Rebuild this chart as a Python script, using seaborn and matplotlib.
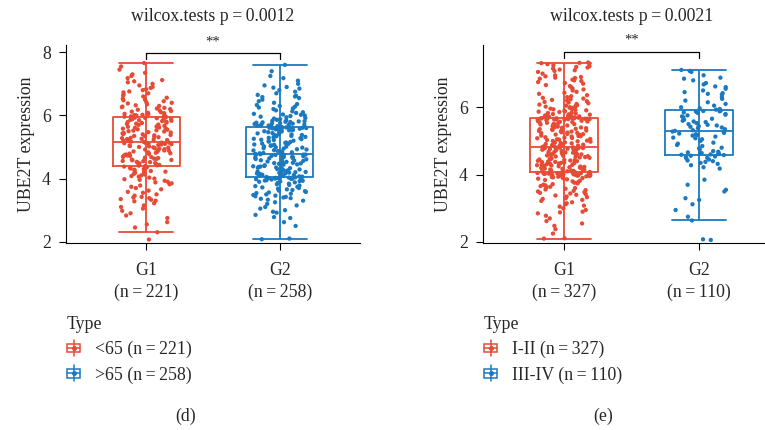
import numpy as np
import pandas as pd
import matplotlib
matplotlib.use("Agg")
import matplotlib.pyplot as plt
import seaborn as sns
from matplotlib.legend_handler import HandlerBase
from matplotlib.patches import Rectangle, Patch
from matplotlib.lines import Line2D

sns.set_theme(style="ticks")
plt.rcParams['font.family'] = ['Liberation Serif', 'DejaVu Serif']

RED = "#E64B35"
BLUE = "#1B79C0"
TS = "\u2009"

# ---------------- data ----------------
categories = ["G1", "G2"]
d_ticklabels = [f"G1\n(n{TS}={TS}221)", f"G2\n(n{TS}={TS}258)"]
e_ticklabels = [f"G1\n(n{TS}={TS}327)", f"G2\n(n{TS}={TS}110)"]
d_types = [f"<65 (n{TS}={TS}221)", f">65 (n{TS}={TS}258)"]
e_types = [f"I-II (n{TS}={TS}327)", f"III-IV (n{TS}={TS}110)"]
d_title = f"wilcox.tests p{TS}={TS}0.0012"
e_title = f"wilcox.tests p{TS}={TS}0.0021"
d_sig = "**"
e_sig = "**"
ylabel = "UBE2T expression"

d_g1 = """2.07 2.30 2.45 2.55 2.62 2.75 2.83 2.90 2.98 3.05 3.10 3.15 3.22 3.28 3.30 3.33
3.35 3.38 3.40 3.42 3.46 3.50 3.55 3.58 3.62 3.66 3.70 3.74 3.78 3.82 3.85 3.88 3.90 3.93
3.96 3.98 4.00 4.03 4.06 4.08 4.10 4.13 4.15 4.18 4.20 4.22 4.24 4.26 4.28 4.30 4.32 4.34
4.36 4.38 4.40 4.41 4.42 4.43 4.45 4.46 4.48 4.49 4.50 4.52 4.53 4.55 4.56 4.58 4.59 4.60
4.62 4.63 4.65 4.66 4.68 4.69 4.70 4.72 4.73 4.75 4.76 4.78 4.79 4.80 4.82 4.83 4.85 4.86
4.88 4.89 4.90 4.92 4.93 4.95 4.96 4.98 4.99 5.00 5.02 5.03 5.05 5.06 5.08 5.09 5.10 5.11
5.12 5.13 5.14 5.14 5.15 5.16 5.17 5.19 5.20 5.22 5.23 5.25 5.26 5.28 5.29 5.31 5.32 5.34
5.35 5.37 5.38 5.40 5.41 5.43 5.44 5.46 5.47 5.49 5.50 5.52 5.53 5.55 5.56 5.58 5.59 5.61
5.62 5.64 5.65 5.67 5.68 5.70 5.71 5.73 5.74 5.76 5.77 5.79 5.80 5.82 5.83 5.85 5.86 5.88
5.89 5.90 5.91 5.92 5.93 5.94 5.95 5.96 5.97 5.98 5.99 6.00 6.01 6.02 6.04 6.05 6.07 6.08
6.10 6.12 6.14 6.16 6.18 6.20 6.22 6.24 6.26 6.28 6.30 6.32 6.35 6.38 6.40 6.42 6.45 6.48
6.50 6.53 6.56 6.60 6.63 6.66 6.70 6.73 6.76 6.80 6.83 6.87 6.90 6.95 7.00 7.05 7.08 7.12
7.18 7.25 7.30 7.35 7.45 7.55 7.66"""

d_g2 = """2.08 2.10 2.50 2.62 2.75 2.78 2.85 2.92 2.95 3.00 3.05 3.10 3.15 3.20 3.25 3.30
3.33 3.36 3.38 3.40 3.42 3.44 3.46 3.48 3.50 3.52 3.54 3.56 3.58 3.60 3.62 3.64 3.66 3.68
3.70 3.72 3.74 3.76 3.78 3.80 3.82 3.84 3.86 3.88 3.90 3.91 3.92 3.93 3.94 3.95 3.96 3.97
3.98 3.99 4.00 4.00 4.01 4.01 4.02 4.02 4.03 4.03 4.04 4.04 4.05 4.06 4.07 4.08 4.09 4.10
4.11 4.12 4.14 4.15 4.16 4.17 4.18 4.19 4.20 4.21 4.22 4.24 4.25 4.26 4.27 4.28 4.29 4.30
4.32 4.33 4.34 4.35 4.37 4.38 4.39 4.40 4.42 4.43 4.44 4.45 4.47 4.48 4.49 4.50 4.52 4.53
4.54 4.56 4.57 4.58 4.60 4.61 4.62 4.64 4.65 4.66 4.67 4.68 4.69 4.70 4.71 4.72 4.73 4.74
4.75 4.75 4.76 4.76 4.77 4.78 4.80 4.81 4.83 4.84 4.86 4.87 4.89 4.90 4.92 4.93 4.95 4.96
4.98 4.99 5.01 5.02 5.04 5.05 5.07 5.08 5.10 5.11 5.13 5.14 5.16 5.17 5.19 5.20 5.22 5.23
5.25 5.26 5.28 5.29 5.31 5.32 5.34 5.35 5.37 5.38 5.40 5.41 5.43 5.44 5.46 5.47 5.49 5.50
5.51 5.52 5.53 5.54 5.55 5.56 5.57 5.58 5.59 5.60 5.60 5.61 5.61 5.61 5.62 5.63 5.64 5.65
5.66 5.67 5.68 5.69 5.70 5.71 5.72 5.73 5.74 5.75 5.76 5.77 5.78 5.79 5.80 5.81 5.82 5.83
5.84 5.86 5.88 5.90 5.92 5.94 5.96 5.98 6.00 6.02 6.03 6.05 6.08 6.10 6.13 6.16 6.20 6.22
6.25 6.28 6.30 6.33 6.36 6.40 6.45 6.50 6.55 6.58 6.60 6.62 6.65 6.70 6.75 6.80 6.85 6.88
6.90 6.95 7.00 7.10 7.18 7.25 7.40 7.60"""

e_g1 = """2.10 2.11 2.25 2.38 2.48 2.55 2.62 2.70 2.78 2.85 2.88 2.90 2.95 3.00 3.05 3.08
3.12 3.15 3.18 3.22 3.25 3.28 3.30 3.33 3.35 3.38 3.40 3.42 3.44 3.46 3.48 3.50 3.52 3.54
3.56 3.58 3.60 3.62 3.64 3.66 3.68 3.70 3.72 3.74 3.76 3.78 3.80 3.82 3.84 3.86 3.88 3.89
3.90 3.91 3.92 3.93 3.94 3.95 3.96 3.97 3.98 3.98 3.99 3.99 4.00 4.00 4.01 4.01 4.02 4.02
4.03 4.03 4.03 4.04 4.04 4.04 4.05 4.05 4.05 4.06 4.06 4.06 4.07 4.08 4.09 4.10 4.11 4.12
4.13 4.14 4.15 4.16 4.17 4.18 4.19 4.20 4.21 4.22 4.23 4.24 4.25 4.26 4.27 4.28 4.29 4.30
4.31 4.32 4.33 4.34 4.35 4.36 4.37 4.38 4.39 4.40 4.41 4.42 4.43 4.44 4.45 4.46 4.47 4.48
4.49 4.50 4.51 4.52 4.53 4.54 4.55 4.56 4.57 4.58 4.59 4.60 4.61 4.62 4.63 4.64 4.65 4.66
4.67 4.68 4.69 4.70 4.71 4.72 4.73 4.74 4.75 4.76 4.77 4.78 4.79 4.80 4.81 4.81 4.80 4.79
4.78 4.77 4.76 4.82 4.83 4.84 4.85 4.86 4.88 4.89 4.90 4.91 4.93 4.94 4.95 4.96 4.98 4.99
5.00 5.01 5.03 5.04 5.05 5.06 5.08 5.09 5.10 5.11 5.13 5.14 5.15 5.16 5.18 5.19 5.20 5.21
5.23 5.24 5.25 5.26 5.28 5.29 5.30 5.31 5.33 5.34 5.35 5.36 5.38 5.39 5.40 5.41 5.43 5.44
5.45 5.46 5.48 5.49 5.50 5.51 5.53 5.54 5.55 5.56 5.57 5.58 5.59 5.60 5.61 5.62 5.63 5.63
5.64 5.64 5.65 5.65 5.66 5.66 5.66 5.67 5.67 5.67 5.67 5.67 5.67 5.68 5.69 5.70 5.71 5.72
5.73 5.74 5.75 5.76 5.77 5.78 5.79 5.80 5.82 5.83 5.84 5.86 5.87 5.88 5.90 5.91 5.92 5.94
5.95 5.96 5.98 5.99 6.00 6.02 6.03 6.05 6.06 6.08 6.10 6.12 6.14 6.16 6.18 6.20 6.22 6.24
6.26 6.28 6.30 6.33 6.36 6.40 6.43 6.46 6.50 6.53 6.56 6.60 6.63 6.66 6.70 6.72 6.75 6.78
6.80 6.82 6.85 6.87 6.88 6.90 6.92 6.95 7.00 7.05 7.08 7.10 7.12 7.15 7.18 7.20 7.22 7.25
7.28 7.30 7.31 7.32 7.33"""

e_g2 = """2.06 2.08 2.64 2.75 2.95 3.12 3.25 3.30 3.50 3.55 3.70 3.85 4.18 4.22 4.28 4.32
4.35 4.38 4.40 4.42 4.45 4.48 4.50 4.52 4.54 4.56 4.58 4.59 4.60 4.61 4.62 4.63 4.64 4.66
4.68 4.70 4.75 4.78 4.80 4.85 4.88 4.92 4.95 5.00 5.05 5.08 5.10 5.13 5.16 5.18 5.20 5.22
5.24 5.26 5.28 5.30 5.32 5.35 5.38 5.40 5.42 5.44 5.46 5.48 5.50 5.53 5.56 5.58 5.60 5.63
5.66 5.70 5.73 5.76 5.78 5.80 5.83 5.85 5.87 5.88 5.89 5.90 5.92 5.93 5.95 5.97 6.00 6.05
6.10 6.15 6.20 6.25 6.30 6.38 6.40 6.42 6.45 6.50 6.55 6.60 6.62 6.68 6.72 6.80 6.85 6.88
6.95 7.05 7.08 7.11"""

d_values = [np.array(d_g1.split(), float), np.array(d_g2.split(), float)]
e_values = [np.array(e_g1.split(), float), np.array(e_g2.split(), float)]

FS = 12.8
np.random.seed(3)  # jitter positions only


class HandlerBoxIcon(HandlerBase):
    def create_artists(self, legend, orig_handle, xdescent, ydescent,
                       width, height, fontsize, trans):
        c = orig_handle.get_edgecolor()
        x0, y0 = -xdescent, -ydescent
        box = Rectangle((x0, y0 + 0.18 * height), width, 0.64 * height,
                        facecolor="none", edgecolor=c, lw=1.1, transform=trans)
        stem = Line2D([x0 + width / 2] * 2, [y0 - 0.12 * height, y0 + 1.12 * height],
                      color=c, lw=1.1, transform=trans)
        med = Line2D([x0, x0 + width], [y0 + 0.5 * height] * 2, color=c, lw=1.1,
                     transform=trans)
        dot = Line2D([x0 + width / 2], [y0 + 0.5 * height], marker="o", ms=2.6,
                     color=c, ls="none", transform=trans)
        return [box, stem, med, dot]


def draw_panel(ax, values, types, ticklabels, title, sig, ylim, yticks):
    df = pd.DataFrame({
        "group": np.repeat(categories, [len(v) for v in values]),
        "value": np.concatenate(values),
        "Type": np.repeat(types, [len(v) for v in values]),
    })
    pal = {types[0]: RED, types[1]: BLUE}
    sns.boxplot(data=df, x="group", y="value", hue="Type", order=categories,
                hue_order=types, palette=pal, fill=False, dodge=False, width=0.5,
                showfliers=False, linewidth=1.3, whis=1.5, legend=False, ax=ax,
                capwidths=0.4)
    # whisker line continues through the box (as in the reference)
    for i, v in enumerate(values):
        q1, q3 = np.percentile(v, [25, 75])
        ax.vlines(i, q1, q3, color=[RED, BLUE][i], lw=1.3, zorder=2)
    sns.stripplot(data=df, x="group", y="value", hue="Type", order=categories,
                  hue_order=types, palette=pal, dodge=False, jitter=0.2, size=3.1,
                  linewidth=0, legend=False, ax=ax, zorder=3)
    # significance bracket
    top = df["value"].max()
    yb = top + 0.31
    ax.plot([0, 0, 1, 1], [yb - 0.19, yb, yb, yb - 0.19], color="black", lw=0.9,
            clip_on=False)
    ax.text(0.5, yb + 0.36, sig, ha="center", va="center", fontsize=10.5,
            clip_on=False)
    ax.set_xlim(-0.6, 1.6)
    ax.set_ylim(*ylim)
    ax.set_yticks(yticks)
    ax.set_xticks(range(len(categories)))
    ax.set_xticklabels(ticklabels, fontsize=FS, linespacing=1.35)
    ax.tick_params(axis="y", labelsize=FS, length=5, width=0.8, pad=6, color="black")
    ax.tick_params(axis="x", length=5, width=0.8, pad=9, color="black")
    ax.set_xlabel("")
    ax.set_ylabel(ylabel, fontsize=FS, labelpad=5)
    ax.set_title(title, fontsize=FS, pad=17)
    sns.despine(ax=ax)
    for s in ["left", "bottom"]:
        ax.spines[s].set_color("black")
        ax.spines[s].set_linewidth(0.8)


W, H = 765, 430
fig = plt.figure(figsize=(W / 100, H / 100), dpi=100, facecolor="white")
ax1 = fig.add_axes([66 / W, 187 / H, 294 / W, 198 / H])
ax2 = fig.add_axes([483 / W, 187 / H, 297 / W, 198 / H])

draw_panel(ax1, d_values, d_types, d_ticklabels, d_title, d_sig, (1.96, 8.23), [2, 4, 6, 8])
draw_panel(ax2, e_values, e_types, e_ticklabels, e_title, e_sig, (1.97, 7.85), [2, 4, 6])

for x0, types in [(67, d_types), (484, e_types)]:
    handles = [Patch(edgecolor=RED, facecolor="none"), Patch(edgecolor=BLUE, facecolor="none")]
    fig.legend(handles, types, loc="upper left", bbox_to_anchor=(x0 / W, 1 - 316 / H),
               frameon=False, title="Type", alignment="left",
               handler_map={Patch: HandlerBoxIcon()}, fontsize=FS, title_fontsize=FS,
               handlelength=0.75, handleheight=0.75, handletextpad=0.85,
               labelspacing=0.45, borderpad=0, borderaxespad=0)

fig.text(186 / W, 1 - 416 / H, "(d)", ha="center", va="center", fontsize=FS)
fig.text(603 / W, 1 - 416 / H, "(e)", ha="center", va="center", fontsize=FS)

fig.savefig("out.png", dpi=100, facecolor="white")
